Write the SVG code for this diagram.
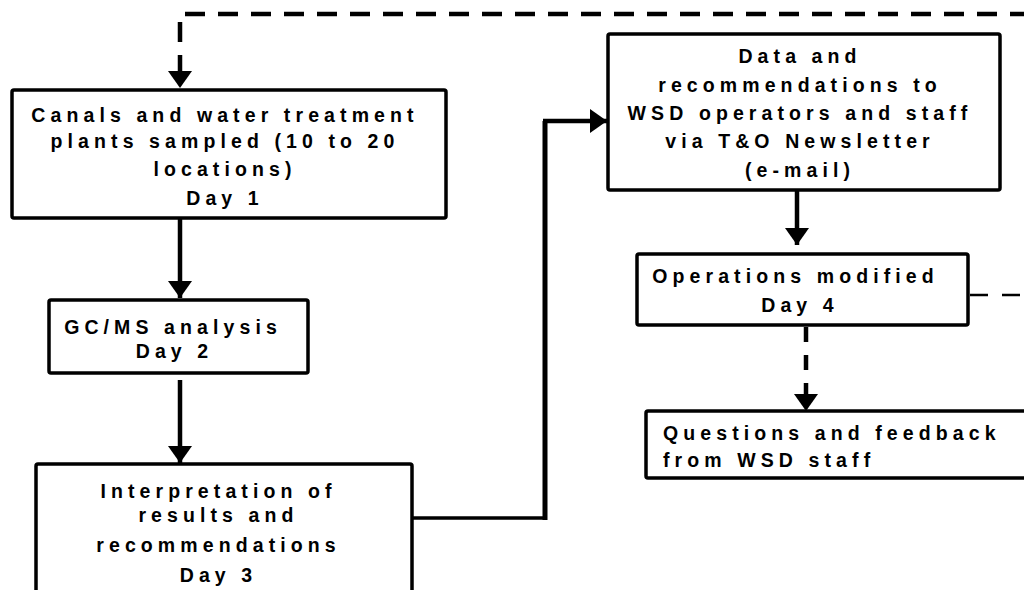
<svg xmlns="http://www.w3.org/2000/svg" width="1024" height="590" viewBox="0 0 1024 590">
<style>
.box{fill:#fff;stroke:#000;stroke-width:3.5}
.t{font-family:"Liberation Sans",Arial,sans-serif;font-weight:bold;font-size:19.5px;letter-spacing:5.1px;fill:#000}
.c{text-anchor:middle}
.ln{fill:none;stroke:#000}
</style>
<defs>
<marker id="ah" markerUnits="userSpaceOnUse" markerWidth="20" markerHeight="24" refX="17" refY="12" orient="auto">
<path d="M0,0 L17,12 L0,24 z" fill="#000"/>
</marker>
</defs>
<rect width="1024" height="590" fill="#fff"/>
<g id="connectors">
<path class="ln" d="M1030,14 L180,14 L180,88" stroke-width="4.5" stroke-dasharray="20,13" marker-end="url(#ah)"/>
<path class="ln" d="M180,219 L180,298" stroke-width="4.5" marker-end="url(#ah)"/>
<path class="ln" d="M180,380 L180,463" stroke-width="4.5" marker-end="url(#ah)"/>
<path class="ln" d="M407,518 L545,518" stroke-width="3.5"/>
<path class="ln" d="M545,520 L545,121" stroke-width="5"/>
<path class="ln" d="M543,121 L607,121" stroke-width="4.3" marker-end="url(#ah)"/>
<path class="ln" d="M797,190 L797,245" stroke-width="4.5" marker-end="url(#ah)"/>
<path class="ln" d="M806,327 L806,411" stroke-width="4.5" stroke-dasharray="15,13" marker-end="url(#ah)"/>
<path class="ln" d="M970,295 L1030,295" stroke-width="2.5" stroke-dasharray="18,14"/>
</g>
<g id="n1">
<rect class="box" x="12" y="90" width="434" height="128" rx="2"/>
<text class="t c" x="225" y="121.5">Canals and water treatment</text>
<text class="t c" x="225" y="147.5">plants sampled (10 to 20</text>
<text class="t c" x="225" y="176">locations)</text>
<text class="t c" x="225" y="205">Day 1</text>
</g>
<g id="n2">
<rect class="box" x="49" y="300" width="259" height="73" rx="2"/>
<text class="t c" x="173" y="334">GC/MS analysis</text>
<text class="t c" x="174.5" y="358">Day 2</text>
</g>
<g id="n3">
<rect class="box" x="36" y="464" width="376" height="140" rx="2"/>
<text class="t c" x="218.5" y="498">Interpretation of</text>
<text class="t c" x="218.5" y="522">results and</text>
<text class="t c" x="218.5" y="552">recommendations</text>
<text class="t c" x="218.5" y="582">Day 3</text>
</g>
<g id="n4">
<rect class="box" x="608" y="34" width="392" height="156" rx="2"/>
<text class="t c" x="800" y="63">Data and</text>
<text class="t c" x="800" y="92">recommendations to</text>
<text class="t c" x="800" y="120">WSD operators and staff</text>
<text class="t c" x="800" y="148">via T&amp;O Newsletter</text>
<text class="t c" x="800" y="177">(e-mail)</text>
</g>
<g id="n5">
<rect class="box" x="637" y="254" width="331" height="71" rx="2"/>
<text class="t c" x="795.5" y="282.5">Operations modified</text>
<text class="t c" x="800" y="312">Day 4</text>
</g>
<g id="n6">
<rect class="box" x="646" y="411" width="390" height="67" rx="2"/>
<text class="t" x="663" y="440">Questions and feedback</text>
<text class="t" x="663" y="467">from WSD staff</text>
</g>
</svg>
